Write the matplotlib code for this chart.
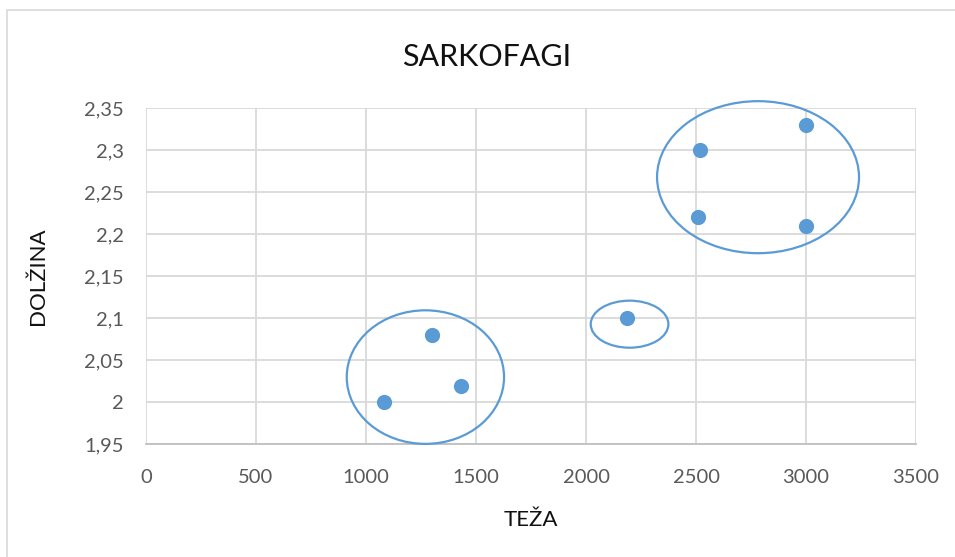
import matplotlib.pyplot as plt
from matplotlib.patches import Ellipse, Rectangle

plt.rcParams['font.family'] = ['Lato', 'DejaVu Sans']

# data
teza = [1080, 1300, 1430, 2185, 2520, 2510, 3000, 3000]
dolzina = [2.00, 2.08, 2.02, 2.10, 2.30, 2.22, 2.33, 2.21]

# group outlines (centre x, centre y, width, height)
groups = [
    (1270, 2.030, 715, 0.159),
    (2198, 2.093, 353, 0.056),
    (2782, 2.268, 918, 0.181),
]

yticks = [1.95, 2.0, 2.05, 2.1, 2.15, 2.2, 2.25, 2.3, 2.35]
ytick_labels = ['1,95', '2', '2,05', '2,1', '2,15', '2,2', '2,25', '2,3', '2,35']
xticks = [0, 500, 1000, 1500, 2000, 2500, 3000, 3500]

blue = '#5B9BD5'

fig = plt.figure(figsize=(9.55, 5.57), dpi=100)
ax = fig.add_axes([146 / 955, 1 - 444.3 / 557, 770 / 955, 336 / 557])

# chart border
fig.patches.append(Rectangle((7 / 955, -0.1), 1.1, 1 - 10 / 557 + 0.1,
                             transform=fig.transFigure, fill=False,
                             edgecolor='#D9D9D9', linewidth=1.2))

ax.scatter(teza, dolzina, s=120, color=blue, zorder=3, linewidths=0)

for cx, cy, w, h in groups:
    ax.add_patch(Ellipse((cx, cy), w, h, fill=False, edgecolor=blue,
                         linewidth=1.6, zorder=4, clip_on=False))

ax.set_xlim(0, 3500)
ax.set_ylim(1.95, 2.35)
ax.set_xticks(xticks)
ax.set_yticks(yticks)
ax.set_yticklabels(ytick_labels)

ax.grid(True, color='#D9D9D9', linewidth=1.3)
ax.set_axisbelow(True)
for s in ['top', 'right', 'left']:
    ax.spines[s].set_visible(False)
ax.spines['bottom'].set_color('#BFBFBF')
ax.spines['bottom'].set_linewidth(1.3)

ax.tick_params(length=0, labelsize=14.5, labelcolor='#595959')
ax.tick_params(axis='y', pad=16)
ax.tick_params(axis='x', pad=18)

ax.set_xlabel('TEŽA', fontsize=16, color='#111111', labelpad=17)
ax.set_ylabel('DOLŽINA', fontsize=16, color='#111111', labelpad=26)
fig.text(487 / 955, 1 - 57 / 557, 'SARKOFAGI', fontsize=22, color='#111111',
         ha='center', va='center')

fig.savefig('out.png', dpi=100)
